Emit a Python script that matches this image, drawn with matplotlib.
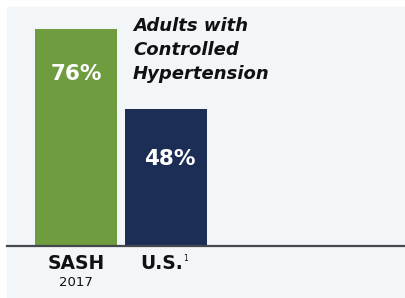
import matplotlib
matplotlib.use("Agg")
import matplotlib.pyplot as plt
from matplotlib.patches import Rectangle

plt.rcParams.update({
    "font.family": ["DejaVu Sans"],
    "figure.dpi": 100,
})

categories = ["SASH", "U.S."]
sublabels = ["2017", ""]
footnotes = ["", "1"]
values = [76, 48]
value_labels = ["76%", "48%"]
title_text = "Adults with\nControlled\nHypertension"

COLORS = ["#6e9c3f", "#1c2d56"]
PANEL = "#f3f6f8"

W, H = 405, 298
fig = plt.figure(figsize=(W / 100, H / 100), dpi=100)
fig.patch.set_facecolor("white")
fig.patches.append(Rectangle((7 / W, 0), 1 - 7 / W, 1 - 7 / H,
                             transform=fig.transFigure, color=PANEL, zorder=-10))

# axes: baseline at y=246px, spans up to top of panel
ax = fig.add_axes([7 / W, (H - 246) / H, 398 / W, 239 / H])
ax.set_facecolor("none")

x = [0, 1]
ax.bar(x, values, width=0.91, color=COLORS, zorder=2)
ax.set_xlim(-0.767, 3.656)
ax.set_ylim(0, 83.6)

for s in ["top", "right", "left"]:
    ax.spines[s].set_visible(False)
ax.spines["bottom"].set_color("#45484c")
ax.spines["bottom"].set_linewidth(1.6)
ax.set_yticks([])
ax.set_xticks([])

# value labels
label_pos = [(0, 60.0), (1.04, 30.5)]
for (lx, ly), t in zip(label_pos, value_labels):
    ax.text(lx, ly, t, color="white", fontsize=15.5, fontweight="bold",
            ha="center", va="center", zorder=3)

# title
ax.text(0.633, 80.0, title_text, fontsize=13, fontweight="bold",
        fontstyle="italic", ha="left", va="top", linespacing=1.42,
        color="#111111")

# category labels
for xi, cat, sub, fn in zip(x, categories, sublabels, footnotes):
    ax.annotate(cat, (xi - (0.05 if fn else 0), 0), xytext=(0, -12.5),
                textcoords="offset points", ha="center", va="center",
                fontsize=13.5, fontweight="bold", color="#111111",
                annotation_clip=False)
    if sub:
        ax.annotate(sub, (xi, 0), xytext=(0, -26.5), textcoords="offset points",
                    ha="center", va="center", fontsize=9.5, color="#111111",
                    annotation_clip=False)
    if fn:
        ax.annotate(fn, (xi + 0.215, 0), xytext=(0, -9), textcoords="offset points",
                    ha="center", va="center", fontsize=5.5, color="#111111",
                    annotation_clip=False)

fig.savefig("out.png", dpi=100)
